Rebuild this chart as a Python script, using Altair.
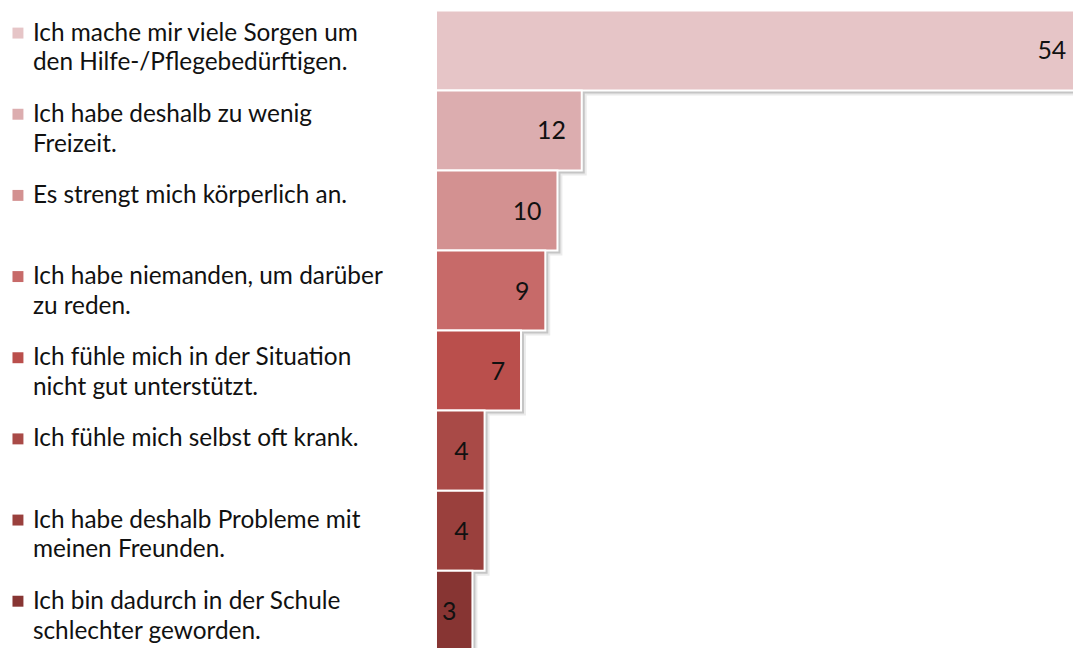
import altair as alt
import pandas as pd

categories = [
    "Ich mache mir viele Sorgen um\nden Hilfe-/Pflegebedürftigen.",
    "Ich habe deshalb zu wenig\nFreizeit.",
    "Es strengt mich körperlich an.",
    "Ich habe niemanden, um darüber\nzu reden.",
    "Ich fühle mich in der Situation\nnicht gut unterstützt.",
    "Ich fühle mich selbst oft krank.",
    "Ich habe deshalb Probleme mit\nmeinen Freunden.",
    "Ich bin dadurch in der Schule\nschlechter geworden.",
]
values = [54, 12, 10, 9, 7, 4, 4, 3]
colors = ["#E6C5C7", "#DCADAF", "#D39191", "#C76A69",
          "#BA4F4C", "#A94A47", "#9A403D", "#873533"]

df = pd.DataFrame({"item": categories, "value": values})

FONT = "Lato"

y_bar = alt.Y("item:N", sort=categories, axis=None,
              scale=alt.Scale(domain=categories, range=[1, 644.2],
                              paddingInner=0, paddingOuter=0))
y_leg = alt.Y("item:N", sort=categories, axis=None,
              scale=alt.Scale(type="point", domain=categories,
                              range=[23.7, 594.5], padding=0))
xscale = alt.Scale(domain=[0, 54], range=[0, 659], nice=False, zero=True)
x_bar = alt.X("value:Q", axis=None, scale=xscale)
x_lab = alt.X("lx:Q", axis=None, scale=xscale)
col = alt.Color("item:N", scale=alt.Scale(domain=categories, range=colors), legend=None)

base = alt.Chart(df)

shadow = base.mark_bar(color="#000000", opacity=0.16, xOffset=3, yOffset=3).encode(
    x=x_bar, y=y_bar)
shadow2 = base.mark_bar(color="#000000", opacity=0.08, xOffset=5, yOffset=5).encode(
    x=x_bar, y=y_bar)
bars = base.mark_bar(stroke="white", strokeWidth=2).encode(x=x_bar, y=y_bar, color=col)
labels = base.transform_calculate(lx="min(datum.value, 53.2)").mark_text(
    align="right", baseline="middle", dx=-16, dy=1,
    fontSize=25, font=FONT, color="#111111").encode(
    x=x_lab, y=y_bar, text="value:Q")

leg_sq = base.mark_square(size=121, opacity=1).encode(
    x=alt.value(-420), y=y_leg, color=col)
leg_tx = base.mark_text(align="left", baseline="alphabetic", dy=7.5, fontSize=24.5,
                        font=FONT, lineBreak="\n", lineHeight=30,
                        color="#111111").encode(
    x=alt.value(-405), y=y_leg, text="item:N")

chart = alt.layer(shadow2, shadow, bars, labels, leg_sq, leg_tx).resolve_scale(
    y="independent"
).properties(
    width=640, height=640,
    padding={"left": 430, "top": 0, "right": 0, "bottom": 0},
    autosize=alt.AutoSizeParams(type="none"),
).configure_view(stroke=None)

chart.save("out.html", embed_options={"renderer": "svg", "actions": False})
